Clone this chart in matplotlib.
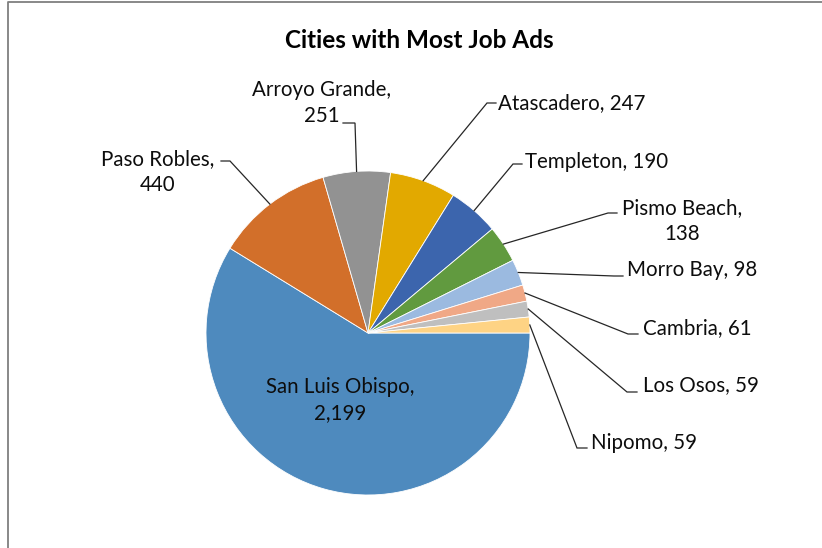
import matplotlib
matplotlib.use("Agg")
import matplotlib.pyplot as plt
import math

plt.rcParams['font.family'] = ['Lato', 'DejaVu Sans']

# Job ad counts by city
cities = ["San Luis Obispo", "Paso Robles", "Arroyo Grande", "Atascadero",
          "Templeton", "Pismo Beach", "Morro Bay", "Cambria", "Los Osos", "Nipomo"]
job_ads = [2199, 440, 251, 247, 190, 138, 98, 61, 59, 59]
colors = ["#4E8ABE", "#D26F2A", "#929292", "#E2A900", "#3C65AD",
          "#619A3F", "#9BBAE0", "#F0A886", "#BFBFBF", "#FED384"]

# label text layout: anchor point, horizontal alignment, line break after comma,
# and leader elbow / end points (pixel coords, measured from the top)
label_layout = [
    dict(xy=(340, 400), ha="center", wrap=True, leader=None),
    dict(xy=(158, 172), ha="center", wrap=True, leader=[(230, 161), (221, 161)]),
    dict(xy=(322, 103), ha="center", wrap=True, leader=[(355, 123), (343, 123)]),
    dict(xy=(498, 103), ha="left", wrap=False, leader=[(487, 103), (496, 103)]),
    dict(xy=(525, 162), ha="left", wrap=False, leader=[(513, 164), (522, 164)]),
    dict(xy=(682, 221), ha="center", wrap=True, leader=[(608, 213), (617, 213)]),
    dict(xy=(627, 270), ha="left", wrap=False, leader=[(614, 276), (623, 276)]),
    dict(xy=(643, 328), ha="left", wrap=False, leader=[(628, 334), (638, 334)]),
    dict(xy=(643, 385), ha="left", wrap=False, leader=[(627, 392), (637, 392)]),
    dict(xy=(591, 443), ha="left", wrap=False, leader=[(577, 448), (587, 448)]),
]

W, H = 822, 548
fig = plt.figure(figsize=(W / 100, H / 100), dpi=100)
ax = fig.add_axes([0, 0, 1, 1])

cx, cy, R = 368, 333, 162
wedges, _ = ax.pie(job_ads, colors=colors, startangle=0, counterclock=False,
                   center=(cx, H - cy), radius=R,
                   wedgeprops=dict(edgecolor="white", linewidth=0.6))
ax.set_xlim(0, W)
ax.set_ylim(0, H)
ax.set_aspect("equal")
ax.axis("off")

for w, name, val, lay in zip(wedges, cities, job_ads, label_layout):
    sep = ",\n" if lay["wrap"] else ", "
    txt = f"{name}{sep}{val:,}"
    tx, ty = lay["xy"]
    ax.text(tx, H - ty, txt, ha=lay["ha"], va="center", multialignment="center",
            fontsize=14.8, color="#0d0d0d", linespacing=1.35)
    if lay["leader"]:
        mid = math.radians((w.theta1 + w.theta2) / 2)
        ex, ey = cx + R * math.cos(mid), (H - cy) + R * math.sin(mid)
        (bx, by), (qx, qy) = lay["leader"]
        ax.plot([ex, bx, qx], [ey, H - by, H - qy], color="#262626", lw=0.9,
                solid_joinstyle="miter")

ax.text(419, H - 40, "Cities with Most Job Ads", ha="center", va="center",
        fontsize=17.5, fontweight="bold", color="#000000")

# chart area frame
ax.plot([7.5, 7.5, W], [0, H - 1.5, H - 1.5], color="#7F7F7F", lw=1.3,
        clip_on=False)

fig.savefig("out.png", dpi=100)
